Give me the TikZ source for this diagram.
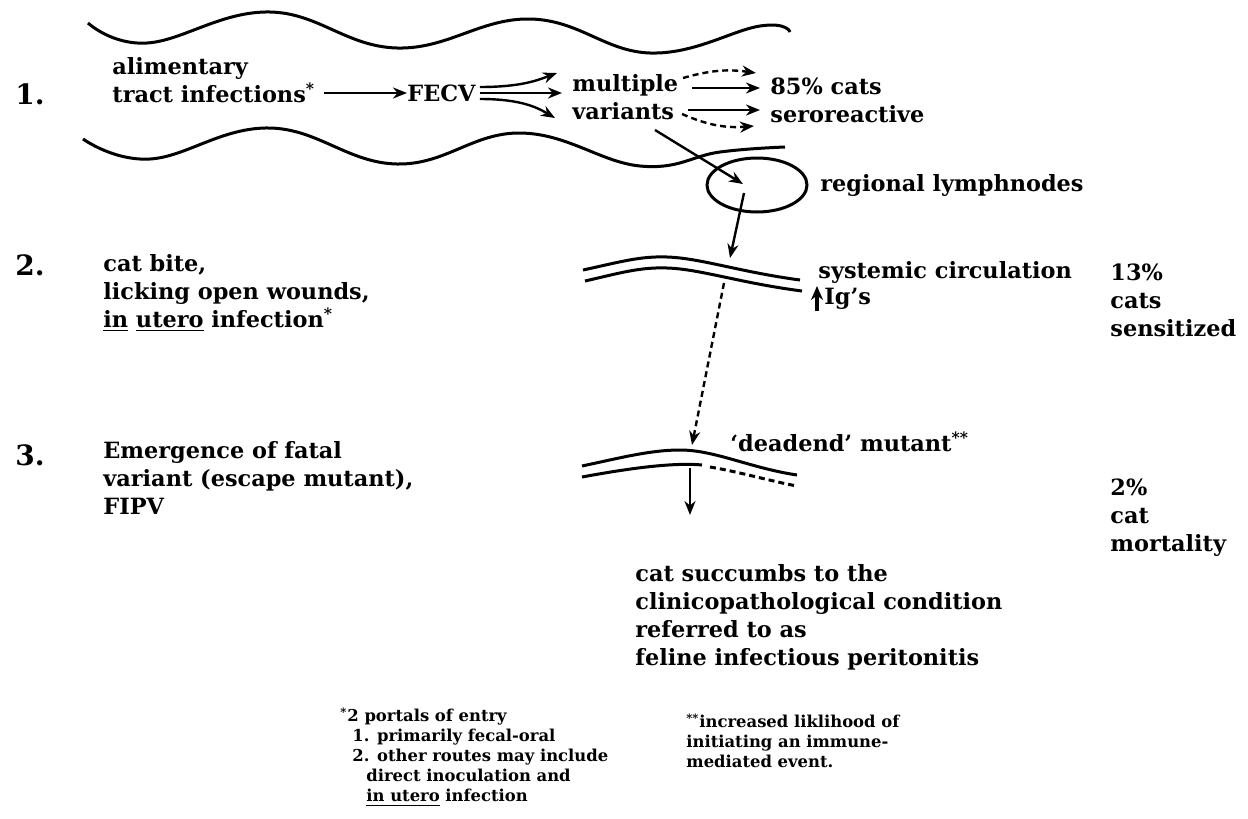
\documentclass[tikz,border=0pt]{standalone}
\usepackage{fontspec}
\setmainfont{DejaVu Serif}
\usetikzlibrary{arrows.meta,shapes.geometric}
\tikzset{
  lbl/.style={font=\bfseries\fontsize{11.2}{14}\selectfont, align=left, inner sep=0pt, anchor=west},
  note/.style={font=\bfseries\fontsize{8.2}{10}\selectfont, align=left, inner sep=0pt, anchor=west},
  num/.style={font=\bfseries\fontsize{14}{16}\selectfont, inner sep=0pt},
  arr/.style={-{Stealth[length=7pt,width=5.5pt]}, line width=1.2pt},
  darr/.style={arr, densely dashed},
  wave/.style={line width=1.5pt},
  vessel/.style={line width=1.5pt},
}
\begin{document}
\begin{tikzpicture}[x=0.5pt,y=-0.5pt]
\useasboundingbox (0,0) rectangle (1248,819);

% gut wall
\draw[wave] plot[smooth, tension=0.7] coordinates {(88,23) (147,43) (270,12) (397,48) (530,19) (650,53) (760,26) (790,32)};
\draw[wave] plot[smooth, tension=0.7] coordinates {(83,139) (150,159) (270,128) (397,164) (520,133) (640,166) (720,152) (785,147)};

% step 1
\node[num] (n1) at (30,94) {1.};
\node[lbl] (ali) at (112,80) {alimentary\\tract infections\textsuperscript{*}};
\node[lbl] (fecv) at (407,93) {FECV};
\node[lbl] (mult) at (572,97) {multiple\\variants};
\node[lbl] (sero) at (770,100) {85\% cats\\seroreactive};
\draw[arr] (324,93) -- (fecv.west);
\coordinate (v1) at (557,73);
\coordinate (v2) at (562,93);
\coordinate (v3) at (555,118);
\draw[arr] ([xshift=2pt,yshift=3pt]fecv.east) .. controls (522,87) and (538,80) .. (v1);
\draw[arr] ([xshift=2pt]fecv.east) -- (v2);
\draw[arr] ([xshift=2pt,yshift=-3pt]fecv.east) .. controls (522,99) and (538,108) .. (v3);
\draw[darr] (683,78) to[bend left=12] (756,73);
\draw[arr] (692,88) -- (760,88);
\draw[arr] (688,110) -- (760,110);
\draw[darr] (682,114) to[bend right=14] (754,126);

% lymph node
\node[draw, ellipse, line width=1.5pt, minimum width=50pt, minimum height=27pt, inner sep=0pt] (lymph) at (757,185) {};
\node[lbl] (reg) at (820,185) {regional lymphnodes};
\draw[arr] (655,130) -- (743,184);

% step 2
\node[num] (n2) at (30,265) {2.};
\node[lbl] (bite) at (103,293) {cat bite,\\licking open wounds,\\\underline{in} \underline{utero} infection\textsuperscript{*}};
\draw[vessel] (583,270) .. controls (620,262) and (640,256) .. (667,257) .. controls (700,258) and (740,272) .. (800,280);
\draw[vessel] (585,281) .. controls (620,273) and (640,267) .. (667,268) .. controls (700,269) and (740,283) .. (802,291);
\node[lbl] (circ) at (818,272) {systemic circulation};
\node[lbl] (ig) at (824,299) {Ig's};
\draw[-{Stealth[length=7pt,width=6pt]}, line width=1.8pt] (ig.west) ++(-7,12) -- ++(0,-25);
\node[lbl] (sens) at (1110,300) {13\%\\cats\\sensitized};
\coordinate (c1) at (730,258);
\draw[arr] (744,193) -- (c1);
\coordinate (c2) at (692,445);
\draw[darr] (724,283) -- (c2);

% step 3
\node[num] (n3) at (30,455) {3.};
\node[lbl] (emerg) at (103,478) {Emergence of fatal\\variant (escape mutant),\\FIPV};
\draw[vessel] (582,466) .. controls (620,458) and (650,450) .. (680,450) .. controls (715,450) and (750,468) .. (797,475);
\draw[vessel] (582,477) .. controls (620,470) and (670,462) .. (702,465);
\draw[vessel, densely dashed] (710,467) .. controls (740,472) and (770,481) .. (797,486);
\node[lbl] (dead) at (730,442) {‘deadend’ mutant\textsuperscript{**}};
\node[lbl] (mort) at (1110,518) {2\%\\cat\\mortality};
\coordinate (d1) at (690,515);
\draw[arr] (690,468) -- (d1);
\node[lbl] (fip) at (635,617) {cat succumbs to the\\clinicopathological condition\\referred to as\\feline infectious peritonitis};

% footnotes
\node[note] (foot1) at (340,757) {\textsuperscript{*}2 portals of entry\\
\hspace*{6pt}1. primarily fecal-oral\\
\hspace*{6pt}2. other routes may include\\
\hspace*{13pt}direct inoculation and\\
\hspace*{13pt}\underline{in utero} infection};
\node[note] (foot2) at (686,741) {\textsuperscript{**}increased liklihood of\\initiating an immune-\\mediated event.};
\end{tikzpicture}
\end{document}
